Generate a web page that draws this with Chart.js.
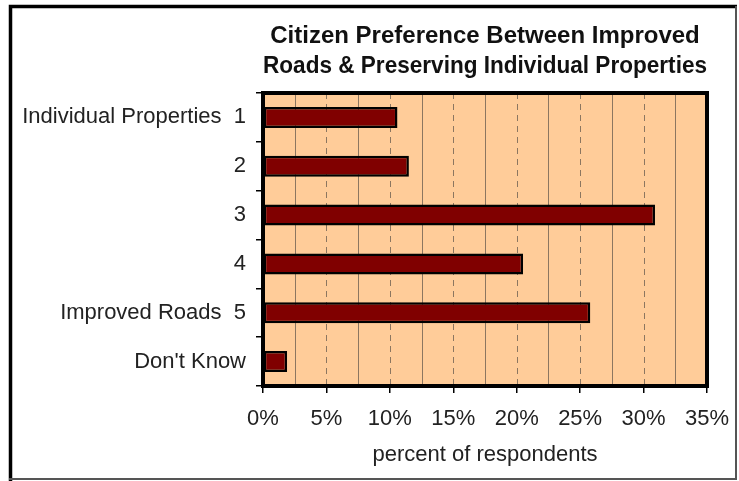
<!DOCTYPE html>
<html>
<head>
<meta charset="utf-8">
<script src="https://cdn.jsdelivr.net/npm/chart.js@4/dist/chart.umd.min.js"></script>
<style>
html,body{margin:0;padding:0;background:#fff;}
#wrap{width:739px;height:481px;}
</style>
</head>
<body>
<div id="wrap"><canvas id="c" width="739" height="481"></canvas></div>
<script>
const categories = ["Individual Properties  1", "2", "3", "4", "Improved Roads  5", "Don't Know"];
const percentValues = [10.6, 11.5, 30.9, 20.5, 25.8, 1.9];
const xTickValues = [0, 5, 10, 15, 20, 25, 30, 35];
const gridValues = [2.5, 5, 7.5, 10, 12.5, 15, 17.5, 20, 22.5, 25, 27.5, 30, 32.5];
const titleLines = ["Citizen Preference Between Improved", "Roads & Preserving Individual Properties"];
const xAxisTitle = "percent of respondents";

const FONT = "'Liberation Sans', Arial, sans-serif";

const framePlugin = {
  id: 'frame',
  beforeDraw(chart) {
    const ctx = chart.ctx;
    ctx.save();
    ctx.fillStyle = '#fff';
    ctx.fillRect(0, 0, chart.width, chart.height);
    const a = chart.chartArea;
    ctx.fillStyle = '#FFCC99';
    ctx.fillRect(a.left, a.top, a.right - a.left, a.bottom - a.top);
    ctx.restore();
  },
  beforeDatasetsDraw(chart) {
    const ctx = chart.ctx;
    const a = chart.chartArea;
    const xs = chart.scales.x;
    ctx.save();
    ctx.lineWidth = 1;
    ctx.strokeStyle = '#8c7660';
    gridValues.forEach(v => {
      const px = Math.round(xs.getPixelForValue(v)) + 0.5;
      ctx.setLineDash(v % 5 === 0 ? [6, 5] : []);
      ctx.beginPath();
      ctx.moveTo(px, a.top);
      ctx.lineTo(px, a.bottom);
      ctx.stroke();
    });
    ctx.restore();
  },
  afterDraw(chart) {
    const ctx = chart.ctx;
    const a = chart.chartArea;
    ctx.save();
    ctx.strokeStyle = '#000';
    ctx.lineWidth = 4;
    ctx.strokeRect(a.left, a.top, a.right - a.left, a.bottom - a.top);
    // outer frame
    ctx.lineWidth = 3.5;
    ctx.beginPath();
    ctx.moveTo(10.5, 481);
    ctx.lineTo(10.5, 6.5);
    ctx.lineTo(737, 6.5);
    ctx.stroke();
    ctx.strokeStyle = '#555';
    ctx.lineWidth = 2;
    ctx.beginPath();
    ctx.moveTo(736, 6);
    ctx.lineTo(736, 479);
    ctx.lineTo(9, 479);
    ctx.stroke();
    ctx.restore();
  }
};

new Chart(document.getElementById('c'), {
  type: 'bar',
  data: {
    labels: categories,
    datasets: [{
      data: percentValues,
      backgroundColor: '#800000',
      borderColor: '#000',
      borderWidth: 2.5,
      borderSkipped: false,
      categoryPercentage: 1,
      barPercentage: 0.43
    }]
  },
  plugins: [framePlugin],
  options: {
    indexAxis: 'y',
    responsive: false,
    animation: false,
    devicePixelRatio: 1,
    layout: { padding: { top: 6, right: 32, bottom: 0, left: 0 } },
    plugins: {
      legend: { display: false },
      tooltip: { enabled: false },
      title: {
        display: true,
        text: titleLines,
        fullSize: false,
        color: '#111',
        font: { family: FONT, size: 24, weight: 'bold', lineHeight: 30 / 24 },
        padding: { top: 15, bottom: 12 }
      }
    },
    scales: {
      x: {
        type: 'linear',
        min: 0,
        max: 35,
        afterBuildTicks(scale) { scale.ticks = xTickValues.map(v => ({ value: v })); },
        afterFit(scale) { scale.height = 481 - 386; scale.paddingLeft = 0; scale.paddingRight = 0; },
        grid: { display: true, drawOnChartArea: false, tickLength: 7, color: '#000', lineWidth: 1.5 },
        border: { display: false },
        ticks: {
          color: '#222',
          font: { family: FONT, size: 22 },
          padding: 13,
          maxRotation: 0,
          callback: v => v + '%'
        },
        title: {
          display: true,
          text: xAxisTitle,
          color: '#222',
          font: { family: FONT, size: 22 },
          padding: { top: 4, bottom: 13 }
        }
      },
      y: {
        type: 'category',
        offset: true,
        afterFit(scale) { scale.width = 263; },
        grid: { display: true, offset: true, drawOnChartArea: false, tickLength: 7, color: '#000', lineWidth: 1.5 },
        border: { display: false },
        ticks: {
          color: '#222',
          font: { family: FONT, size: 22 },
          padding: 10,
          autoSkip: false
        }
      }
    }
  }
});
</script>
</body>
</html>
